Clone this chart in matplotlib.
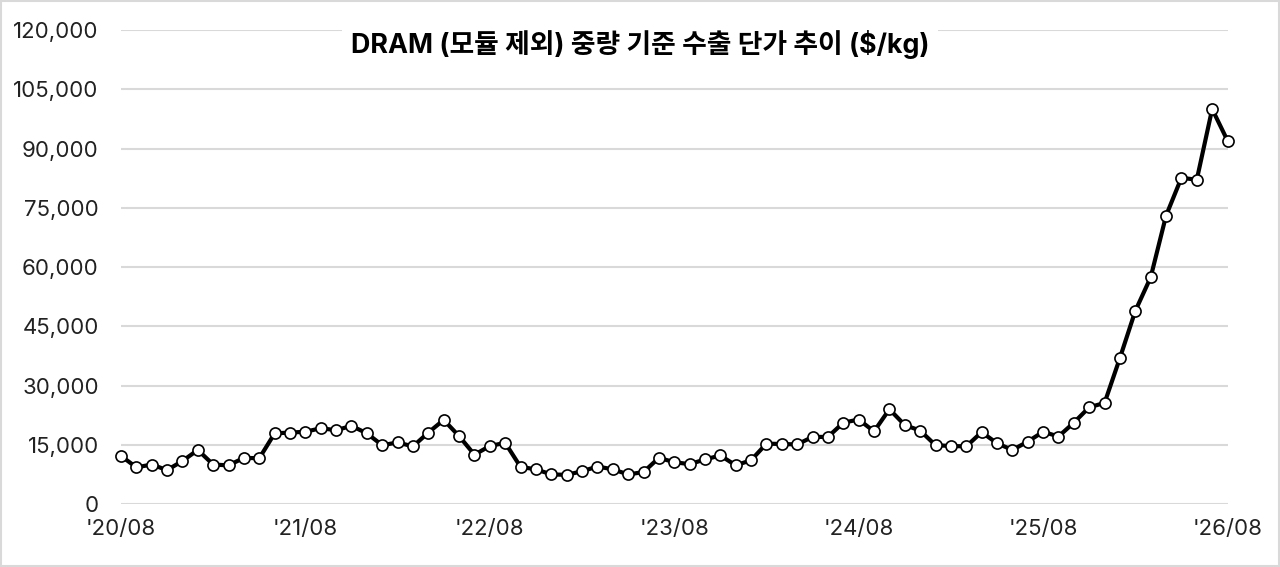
import matplotlib.pyplot as plt
from matplotlib.patches import Rectangle

plt.rcParams['font.family'] = ['Inter', 'Noto Sans CJK KR', 'DejaVu Sans']

# monthly export unit price, '20/08 .. '26/08 ($/kg)
prices = [12200, 9300, 10000, 8600, 10900, 13700, 10000, 9800, 11700, 11600,
          17900, 18100, 18300, 19200, 18700, 19800, 17900, 14900, 15600, 14600,
          18100, 21300, 17200, 12500, 14700, 15500, 9400, 8800, 7500, 7400,
          8300, 9500, 8800, 7500, 8100, 11700, 10600, 10100, 11300, 12300,
          9800, 11100, 15300, 15200, 15100, 17000, 17000, 20600, 21400, 18400,
          24000, 20000, 18600, 14900, 14700, 14600, 18200, 15400, 13700, 15800,
          18300, 17100, 20600, 24500, 25600, 37000, 48900, 57400, 73000, 82600,
          82100, 100000, 92000]
tick_labels = ["'20/08", "'21/08", "'22/08", "'23/08", "'24/08", "'25/08", "'26/08"]
y_ticks = [0, 15000, 30000, 45000, 60000, 75000, 90000, 105000, 120000]

title = "DRAM (모듈 제외) 중량 기준 수출 단가 추이 ($/kg)"

fig = plt.figure(figsize=(12.8, 5.67), dpi=100)
ax = fig.add_axes([0.0945, 0.111, 0.8645, 0.836])

x = list(range(len(prices)))
ax.plot(x, prices, color='black', linewidth=3.0, marker='o', markersize=8,
        markerfacecolor='white', markeredgecolor='black', markeredgewidth=1.2,
        zorder=3, clip_on=False)

ax.set_xlim(0, len(prices) - 1)
ax.set_ylim(0, 120000)
ax.set_yticks(y_ticks)
ax.set_yticklabels([f"{v:,}" for v in y_ticks])
ax.set_xticks(x[::12])
ax.set_xticklabels(tick_labels)
ax.tick_params(axis='both', length=0, labelsize=16, colors='#222222')
ax.tick_params(axis='y', pad=16)
ax.tick_params(axis='x', pad=11)
ax.grid(axis='y', color='#d9d9d9', linewidth=1.5, zorder=0)
for s in ax.spines.values():
    s.set_visible(False)

fig.text(0.5, 0.921, title, ha='center', va='center', fontsize=19.3,
         fontweight='bold', color='black',
         bbox=dict(facecolor='white', edgecolor='none', pad=6))

fig.patches.append(Rectangle((0.001, 0.002), 0.998, 0.996, transform=fig.transFigure,
                             fill=False, edgecolor='#d9d9d9', linewidth=1.5))

fig.savefig('out.png', dpi=100)
